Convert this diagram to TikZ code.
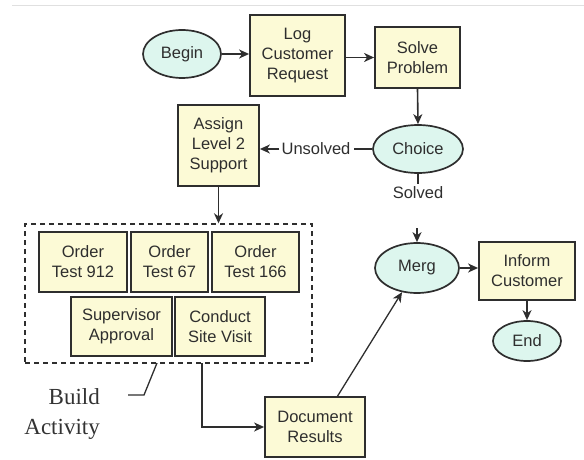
\documentclass[tikz,border=0pt]{standalone}
\usepackage{fontspec}
\setmainfont{Liberation Sans}
\newfontfamily\serifbuild{Liberation Serif}
\usetikzlibrary{arrows.meta,shapes.geometric}
\definecolor{boxfill}{HTML}{FCFAD6}
\definecolor{ellfill}{HTML}{DDF6EE}
\definecolor{edge}{HTML}{2E2E2E}
\tikzset{
  x=1pt, y=-1pt,
  every node/.style={font=\fontsize{16.5}{20}\selectfont, text=edge},
  boxnode/.style={draw=edge, line width=1.8pt, fill=boxfill, align=center, inner sep=0pt},
  ellnode/.style={ellipse, draw=edge, line width=1.7pt, fill=ellfill, align=center, inner sep=0pt},
  conn/.style={draw=edge, line width=1.6pt},
  arr/.style={conn, -{Stealth[length=10pt,width=9pt,inset=3pt]}},
}
\begin{document}
\begin{tikzpicture}
\useasboundingbox (0,0) rectangle (584,460);
\draw[black!12, line width=1pt] (12,6) -- (584,6);

% group
\node[draw=edge, line width=1.4pt, dash pattern=on 5pt off 4pt, minimum width=287pt, minimum height=139pt, inner sep=0pt] (group) at (168.5,293.5) {};

% ellipses
\node[ellnode, minimum width=78pt, minimum height=48pt] (begin) at (182,54) {Begin};
\node[ellnode, minimum width=90pt, minimum height=48pt] (choice) at (418,149) {Choice};
\node[ellnode, minimum width=84pt, minimum height=50pt] (merg) at (417,268) {Merg};
\node[ellnode, minimum width=68pt, minimum height=40pt] (end) at (527,341) {End};

% boxes
\node[boxnode, minimum width=95pt, minimum height=81pt] (log) at (297.5,55.5) {Log\\Customer\\Request};
\node[boxnode, minimum width=85pt, minimum height=61pt] (solve) at (417.5,57.5) {Solve\\Problem};
\node[boxnode, minimum width=81pt, minimum height=81pt] (assign) at (218.5,145.5) {Assign\\Level 2\\Support};
\node[boxnode, minimum width=88pt, minimum height=60pt] (o912) at (83,262) {Order\\Test 912};
\node[boxnode, minimum width=77pt, minimum height=60pt] (o67) at (169.5,262) {Order\\Test 67};
\node[boxnode, minimum width=87pt, minimum height=60pt] (o166) at (255.5,262) {Order\\Test 166};
\node[boxnode, minimum width=101pt, minimum height=59pt] (sup) at (121.5,326.5) {Supervisor\\Approval};
\node[boxnode, minimum width=90pt, minimum height=59pt] (csv) at (220,326.5) {Conduct\\Site Visit};
\node[boxnode, minimum width=100pt, minimum height=60pt] (doc) at (315,427) {Document\\Results};
\node[boxnode, minimum width=96pt, minimum height=58pt] (inform) at (527,271) {Inform\\Customer};

% labels
\node[inner sep=0pt] (unsolved) at (316,149) {Unsolved};
\node[inner sep=0pt, anchor=north] (solved) at (418,186) {Solved};
\node[inner sep=0pt, anchor=east, align=right, font=\serifbuild\fontsize{23}{29}\selectfont, text=black!80] (build) at (100,414) {Build\\Activity};

% coordinates
\coordinate (mergin) at (417,228);
\coordinate (gout) at (202,363);
\coordinate (dout) at (337,397);
\coordinate (lead0) at (128,395);
\coordinate (lead1) at (144,395);
\coordinate (lead2) at (157,363);

% connectors
\draw[arr] (begin.east) -- (begin.east -| log.west);
\draw[arr] (log.east |- solve.west) -- (solve.west);
\draw[arr] (solve.south) -- (choice.north);
\draw[conn] (choice.west) -- ([xshift=3pt]unsolved.east);
\draw[arr] ([xshift=-2pt]unsolved.west) -- (assign.east |- unsolved.west);
\draw[conn] (choice.south) -- (choice.south |- 0,184);
\draw[arr] (mergin) -- (merg.north);
\draw[arr] (assign.south) -- (assign.south |- group.north);
\draw[arr] (gout) |- (doc.west);
\draw[conn, line width=1.3pt] (lead0) -- (lead1) -- (lead2);
\draw[arr, line width=1.3pt] (dout) -- (merg);
\draw[arr] (merg.east) -- (merg.east -| inform.west);
\draw[arr] (inform.south) -- (end.north);
\end{tikzpicture}
\end{document}
